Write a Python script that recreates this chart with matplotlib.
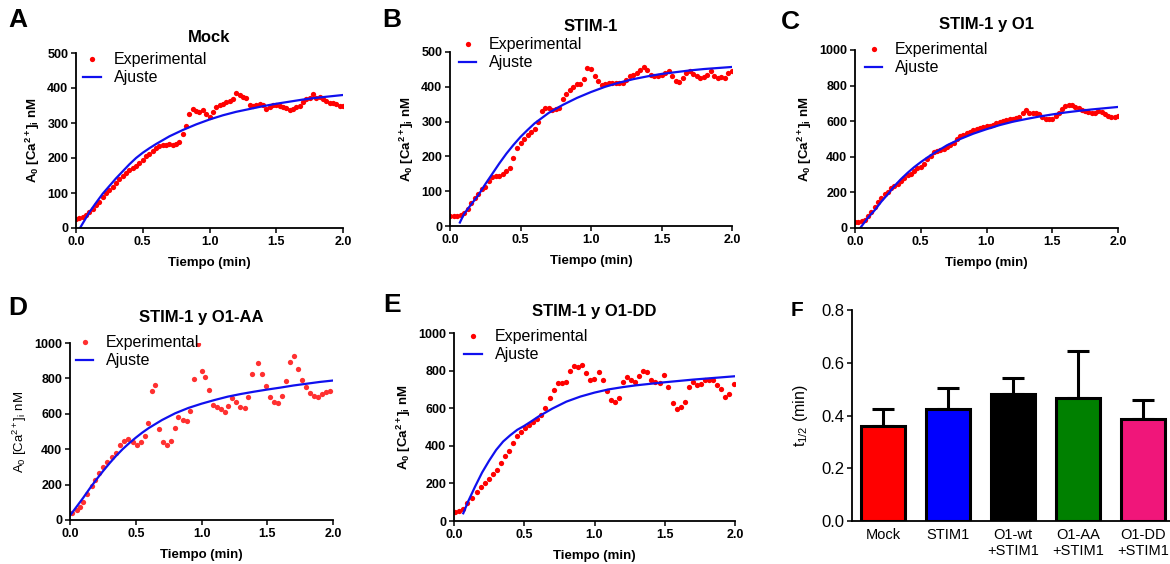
import numpy as np
import matplotlib
matplotlib.use('Agg')
import matplotlib.pyplot as plt

plt.rcParams['font.family'] = ['Liberation Sans', 'DejaVu Sans']
plt.rcParams['mathtext.fontset'] = 'custom'
plt.rcParams['mathtext.rm'] = 'Liberation Sans'
plt.rcParams['mathtext.it'] = 'Liberation Sans:italic'
plt.rcParams['mathtext.bf'] = 'Liberation Sans:bold'

# sampling times of the traces A-C (every 0.025 min)
t_grid = np.linspace(0, 2, 81)

mock_exp = [27, 28, 32, 38, 45, 55, 65, 75, 88, 100, 110, 118, 128, 140, 148, 158,
            165, 172, 178, 185, 195, 205, 212, 220, 228, 233, 236, 238, 240, 238,
            240, 245, 268, 292, 325, 340, 335, 330, 338, 325, 318, 330, 345, 350,
            355, 360, 362, 370, 385, 380, 375, 372, 350, 348, 352, 355, 350, 340,
            345, 350, 352, 348, 345, 342, 338, 340, 345, 348, 360, 368, 372, 382,
            372, 375, 368, 362, 358, 358, 355, 348, 348]

stim_exp = [30, 30, 30, 32, 38, 50, 65, 80, 92, 105, 112, 130, 140, 143, 145, 150,
            158, 168, 195, 225, 238, 250, 262, 270, 280, 300, 330, 338, 338, 332,
            335, 340, 365, 378, 390, 400, 408, 408, 422, 455, 450, 432, 418, 405,
            408, 412, 412, 410, 410, 412, 420, 430, 435, 440, 448, 458, 448, 435,
            430, 432, 435, 440, 445, 432, 418, 415, 425, 440, 445, 438, 430, 425,
            428, 435, 445, 430, 425, 428, 425, 440, 445]

o1_exp = [35, 35, 38, 45, 65, 90, 120, 145, 170, 190, 205, 222, 235, 250, 265, 280,
          295, 305, 320, 335, 345, 360, 385, 405, 425, 430, 438, 445, 455, 465,
          480, 500, 515, 525, 535, 540, 548, 555, 562, 568, 572, 575, 580, 588,
          595, 600, 605, 610, 615, 620, 625, 645, 665, 645, 648, 645, 640, 625,
          615, 612, 615, 630, 645, 670, 688, 692, 690, 682, 672, 665, 660, 650,
          645, 648, 655, 650, 640, 632, 625, 625, 628]

aa_t = [0.013, 0.051, 0.076, 0.101, 0.132, 0.165, 0.19, 0.22, 0.253, 0.284, 0.319,
        0.349, 0.38, 0.41, 0.443, 0.476, 0.506, 0.537, 0.567, 0.592, 0.623, 0.648,
        0.678, 0.709, 0.739, 0.77, 0.795, 0.825, 0.856, 0.886, 0.911, 0.942, 0.975,
        1.0, 1.028, 1.058, 1.089, 1.119, 1.149, 1.18, 1.205, 1.235, 1.266, 1.296,
        1.327, 1.357, 1.387, 1.43, 1.463, 1.494, 1.524, 1.554, 1.585, 1.615, 1.641,
        1.671, 1.701, 1.732, 1.762, 1.792, 1.823, 1.853, 1.884, 1.914, 1.949, 1.98]
aa_exp = [41, 57, 75, 104, 147, 192, 226, 264, 302, 330, 358, 381, 425, 449, 458,
          443, 425, 438, 475, 547, 726, 764, 513, 440, 421, 447, 519, 581, 566, 560,
          613, 796, 994, 840, 808, 732, 651, 638, 626, 608, 642, 689, 664, 638, 632,
          694, 823, 887, 825, 758, 694, 666, 660, 702, 783, 894, 925, 853, 792, 749,
          717, 702, 694, 711, 721, 730]

dd_t = [0.007, 0.038, 0.066, 0.095, 0.126, 0.161, 0.192, 0.221, 0.249, 0.28, 0.308,
        0.335, 0.363, 0.391, 0.422, 0.45, 0.479, 0.508, 0.536, 0.565, 0.593, 0.622,
        0.65, 0.683, 0.712, 0.74, 0.769, 0.797, 0.826, 0.854, 0.883, 0.911, 0.94,
        0.968, 0.996, 1.03, 1.058, 1.087, 1.115, 1.144, 1.172, 1.2, 1.229, 1.257,
        1.286, 1.319, 1.348, 1.376, 1.404, 1.433, 1.466, 1.495, 1.523, 1.556, 1.585,
        1.613, 1.642, 1.67, 1.699, 1.727, 1.756, 1.786, 1.815, 1.846, 1.874, 1.903,
        1.931, 1.96, 1.993]
dd_exp = [50, 55, 62, 94, 121, 156, 183, 201, 224, 249, 272, 307, 346, 373, 417, 453,
          476, 494, 512, 524, 542, 565, 600, 654, 698, 734, 734, 737, 796, 826, 819,
          829, 787, 748, 755, 790, 748, 694, 645, 631, 654, 737, 766, 751, 737, 773,
          799, 790, 751, 742, 734, 778, 712, 627, 595, 606, 631, 712, 737, 725, 730,
          748, 751, 748, 725, 701, 659, 677, 728]

# fitted curves
fit_t = [0.1, 0.15, 0.2, 0.25, 0.3, 0.35, 0.4, 0.45, 0.5, 0.55, 0.6, 0.7, 0.8, 0.9,
         1.0, 1.1, 1.2, 1.3, 1.4, 1.5, 1.6, 1.7, 1.8, 1.9, 2.0]
mock_fit = [45, 72, 98, 120, 142, 162, 182, 200, 215, 228, 240, 262, 280, 296, 310,
            322, 332, 340, 348, 355, 361, 367, 372, 376, 380]
stim_fit = [35, 62, 88, 120, 150, 180, 208, 233, 256, 276, 295, 325, 348, 368, 385,
            400, 412, 422, 430, 437, 442, 447, 451, 454, 457]
o1_fit = [60, 100, 148, 190, 236, 275, 310, 342, 370, 396, 420, 465, 500, 530, 555,
          578, 597, 612, 626, 638, 649, 658, 666, 673, 680]
aa_fit = [125, 178, 228, 275, 320, 362, 400, 434, 465, 494, 520, 565, 603, 633, 657,
          678, 697, 712, 725, 737, 748, 760, 770, 780, 788]
dd_fit = [103, 183, 258, 321, 378, 423, 456, 485, 506, 530, 555, 598, 635, 662, 683,
          700, 712, 722, 730, 738, 745, 752, 758, 764, 770]
fit_start = {'mock': (0.03, 0), 'stim': (0.07, 10), 'o1': (0.04, 0),
             'aa': (0.0, 25), 'dd': (0.066, 41)}

# panel F
groups = ['Mock', 'STIM1', 'O1-wt\n+STIM1', 'O1-AA\n+STIM1', 'O1-DD\n+STIM1']
t_half = [0.36, 0.425, 0.48, 0.465, 0.385]
t_half_err = [0.065, 0.078, 0.062, 0.18, 0.075]
bar_colors = ['#ff0000', '#0000ff', '#000000', '#008000', '#f0167a']

W, H = 1170, 564
fig = plt.figure(figsize=(W / 100, H / 100), dpi=100)


def box(x0, y0, x1, y1):
    return [x0 / W, 1 - y1 / H, (x1 - x0) / W, (y1 - y0) / H]


def style(ax, fs=9, bold=True):
    for s in ['top', 'right']:
        ax.spines[s].set_visible(False)
    for s in ['left', 'bottom']:
        ax.spines[s].set_linewidth(1.3)
    ax.tick_params(width=1.1, length=3.5, labelsize=fs, pad=2)
    if bold:
        for lab in ax.get_xticklabels() + ax.get_yticklabels():
            lab.set_fontweight('bold')


def trace_panel(rect, t, exp, fit, key, ymax, title, title_pad, leg_xy,
                dot_color='#ff0000', ylab_bold=True):
    ax = fig.add_axes(box(*rect))
    ax.plot(t, exp, 'o', color=dot_color, ms=3.8, mec='none', label='Experimental')
    t0, y0 = fit_start[key]
    ax.plot([t0] + fit_t, [y0] + fit, color='#1010ee', lw=1.6, label='Ajuste')
    ax.set_xlim(0, 2)
    ax.set_ylim(0, ymax)
    ax.set_xticks([0, 0.5, 1.0, 1.5, 2.0])
    ax.set_xticklabels(['0.0', '0.5', '1.0', '1.5', '2.0'])
    ax.set_yticks(np.arange(0, ymax + 1, ymax / 5))
    style(ax)
    ax.set_xlabel('Tiempo (min)', fontsize=9.5, fontweight='bold', labelpad=7)
    if ylab_bold:
        ax.set_ylabel(r'$\mathbf{A_0\ [Ca^{2+}]_i\ nM}$', fontsize=9.5, labelpad=4)
    else:
        ax.set_ylabel(r'$\mathrm{A_0\ [Ca^{2+}]_i\ nM}$', fontsize=9.5, labelpad=4)
    ax.set_title(title, fontsize=12, fontweight='bold', pad=title_pad)
    ax.legend(loc='upper left', bbox_to_anchor=leg_xy, frameon=False,
              fontsize=11.5, handlelength=1.1, handletextpad=0.8, labelspacing=0.2,
              borderaxespad=0, borderpad=0.2)
    return ax


trace_panel((76, 53, 343, 228), t_grid, mock_exp, mock_fit, 'mock', 500, 'Mock', 8,
            (0.015, 1.023))
trace_panel((450, 52, 732, 226), t_grid, stim_exp, stim_fit, 'stim', 500, 'STIM-1', 15,
            (0.02, 1.103))
trace_panel((855, 50, 1118, 228), t_grid, o1_exp, o1_fit, 'o1', 1000, 'STIM-1 y O1', 15,
            (0.025, 1.062))
trace_panel((70, 343, 333, 520), aa_t, aa_exp, aa_fit, 'aa', 1000, 'STIM-1 y O1-AA', 15,
            (0.01, 1.062), dot_color='#ff3030', ylab_bold=False)
trace_panel((454, 333, 735, 521), dd_t, dd_exp, dd_fit, 'dd', 1000, 'STIM-1 y O1-DD', 12,
            (0.025, 1.037))

# bar chart of half times
axf = fig.add_axes(box(852, 310, 1170, 521))
xpos = np.arange(len(groups))
axf.bar(xpos, t_half, width=0.69, color=bar_colors, edgecolor='black', linewidth=2.2,
        zorder=2)
axf.errorbar(xpos, t_half, yerr=[np.zeros(len(groups)), t_half_err], fmt='none',
             ecolor='black', elinewidth=2.2, capsize=8, capthick=2.2, zorder=1)
axf.set_xlim(-0.477, 4.415)
axf.set_ylim(0, 0.8)
axf.set_yticks([0.0, 0.2, 0.4, 0.6, 0.8])
axf.set_xticks(xpos)
axf.set_xticklabels(groups)
style(axf, fs=12, bold=False)
axf.tick_params(axis='x', length=0, labelsize=10.5, pad=5)
axf.set_ylabel(r'$\mathrm{t_{1/2}}$ (min)', fontsize=11.5, labelpad=8)

# panel letters
for letter, x, y, fs in [('A', 18, 20, 19), ('B', 392, 20, 19), ('C', 790, 22, 19),
                         ('D', 18, 308, 19), ('E', 392, 305, 19), ('F', 797, 310, 15)]:
    fig.text(x / W, 1 - y / H, letter, fontsize=fs, fontweight='bold',
             ha='center', va='center')

fig.savefig('out.png', dpi=100)
